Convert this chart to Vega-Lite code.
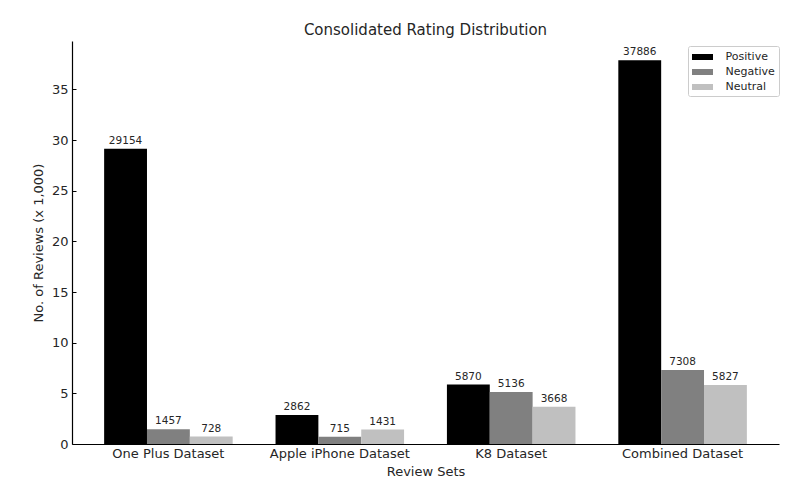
{
  "$schema": "https://vega.github.io/schema/vega-lite/v6.json",
  "width": 707,
  "height": 403,
  "autosize": {"type": "none"},
  "padding": {"left": 72, "top": 41, "right": 21, "bottom": 38},
  "background": "white",
  "config": {
    "font": "DejaVu Sans",
    "view": {"stroke": null},
    "axis": {"labelColor": "#262626", "titleColor": "#262626", "domainColor": "#000000", "tickColor": "#000000", "grid": false, "labelFont": "DejaVu Sans", "titleFont": "DejaVu Sans", "titleFontWeight": "normal"}
  },
  "title": {"text": "Consolidated Rating Distribution", "fontSize": 15, "fontWeight": "normal", "color": "#262626", "font": "DejaVu Sans", "offset": 3},
  "data": {
    "values": [
      {"set": "One Plus Dataset", "sentiment": "Positive", "count": 29154, "k": 29.154},
      {"set": "One Plus Dataset", "sentiment": "Negative", "count": 1457, "k": 1.457},
      {"set": "One Plus Dataset", "sentiment": "Neutral", "count": 728, "k": 0.728},
      {"set": "Apple iPhone Dataset", "sentiment": "Positive", "count": 2862, "k": 2.862},
      {"set": "Apple iPhone Dataset", "sentiment": "Negative", "count": 715, "k": 0.715},
      {"set": "Apple iPhone Dataset", "sentiment": "Neutral", "count": 1431, "k": 1.431},
      {"set": "K8 Dataset", "sentiment": "Positive", "count": 5870, "k": 5.870},
      {"set": "K8 Dataset", "sentiment": "Negative", "count": 5136, "k": 5.136},
      {"set": "K8 Dataset", "sentiment": "Neutral", "count": 3668, "k": 3.668},
      {"set": "Combined Dataset", "sentiment": "Positive", "count": 37886, "k": 37.886},
      {"set": "Combined Dataset", "sentiment": "Negative", "count": 7308, "k": 7.308},
      {"set": "Combined Dataset", "sentiment": "Neutral", "count": 5827, "k": 5.827}
    ]
  },
  "encoding": {
    "x": {
      "field": "set", "type": "nominal", "sort": null,
      "scale": {"paddingInner": 0.25, "paddingOuter": 0.1875},
      "axis": {"title": "Review Sets", "labelAngle": 0, "labelFontSize": 13, "titleFontSize": 13, "tickSize": -4, "labelPadding": 7, "titlePadding": 5, "domainWidth": 1.2}
    },
    "xOffset": {"field": "sentiment", "type": "nominal", "sort": ["Positive", "Negative", "Neutral"], "scale": {"paddingInner": 0, "paddingOuter": 0}},
    "y": {
      "field": "k", "type": "quantitative",
      "scale": {"domain": [0, 39.78], "nice": false},
      "axis": {"title": "No. of Reviews (x 1,000)", "values": [0, 5, 10, 15, 20, 25, 30, 35], "labelFontSize": 13, "titleFontSize": 13, "tickSize": -4, "labelPadding": 8, "titlePadding": 6, "domainWidth": 1.2}
    }
  },
  "layer": [
    {
      "mark": {"type": "bar"},
      "encoding": {
        "color": {
          "field": "sentiment", "type": "nominal",
          "sort": ["Positive", "Negative", "Neutral"],
          "scale": {"domain": ["Positive", "Negative", "Neutral"], "range": ["#000000", "#808080", "#c0c0c0"]},
          "legend": {
            "title": null, "orient": "none", "legendX": 616, "legendY": 5,
            "symbolType": "M-1.5,-0.43L1.5,-0.43L1.5,0.43L-1.5,0.43Z", "symbolSize": 196, "symbolOffset": 3.5, "symbolStrokeWidth": 0,
            "labelFontSize": 11, "labelColor": "#262626", "labelFont": "DejaVu Sans", "labelOffset": 16,
            "fillColor": "white", "strokeColor": "#cccccc", "padding": 4, "rowPadding": 3, "cornerRadius": 2
          }
        }
      }
    },
    {
      "mark": {"type": "text", "baseline": "bottom", "dy": -3, "fontSize": 10.5, "color": "#262626", "font": "DejaVu Sans"},
      "encoding": {
        "text": {"field": "count", "type": "quantitative", "format": "d"}
      }
    }
  ]
}
